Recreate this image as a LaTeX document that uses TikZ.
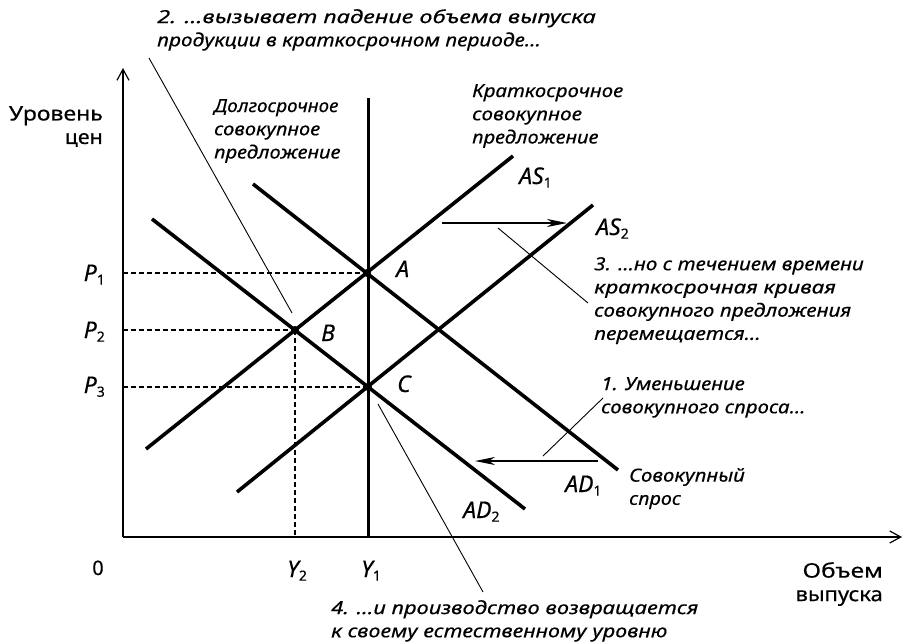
\documentclass[tikz,border=0pt]{standalone}
\usepackage{fontspec}
\usepackage{graphicx}
\setmainfont{Noto Sans}[FakeBold=0.4]
\usetikzlibrary{arrows.meta}
\newcommand\ssub[1]{\raisebox{-0.3ex}{\fontsize{14}{14}\selectfont\upshape #1}}
\newcommand\sx[2]{\scalebox{#1}[1]{#2}}
\begin{document}
\begin{tikzpicture}[x=1pt,y=-1pt,
  curve/.style={line width=3.6pt},
  lras/.style={line width=3pt},
  axis/.style={line width=1.4pt},
  guide/.style={dash pattern=on 5pt off 3pt, line width=1.1pt},
  note/.style={line width=0.9pt},
  shiftarrow/.style={line width=1.3pt, -{Stealth[length=20pt,width=8pt,inset=6pt]}},
  txt/.style={font=\fontsize{18}{23.2}\selectfont\itshape, inner sep=0pt, align=left, anchor=north west},
  upt/.style={font=\fontsize{20}{23.5}\selectfont, inner sep=0pt},
  lbl/.style={font=\fontsize{23}{23}\selectfont\itshape, inner sep=0pt, anchor=base west},
  dot/.style={circle, fill, inner sep=0pt, minimum size=8pt}]
\useasboundingbox (0,0) rectangle (905,643);
% axes
\coordinate (O) at (123,537);
\coordinate (ytop) at (123,68);
\coordinate (xend) at (902,537);
\draw[axis, -{Straight Barb[length=11pt,width=12pt,line width=1.2pt]}] (O) -- (ytop);
\draw[axis, -{Straight Barb[length=11pt,width=12pt,line width=1.2pt]}] (O) -- (xend);
% equilibrium points
\node[dot] (A) at (367,273) {};
\node[dot] (B) at (295,330) {};
\node[dot] (C) at (368,387) {};
% long-run AS
\coordinate (L1) at (368,98);
\coordinate (L2) at (368,537);
\draw[lras] (L1) -- (L2);
% guides
\coordinate (pA) at (123,273);
\coordinate (pB) at (123,330);
\coordinate (pC) at (123,387);
\coordinate (yB) at (295,537);
\draw[guide] (pA) -- (A.center);
\draw[guide] (pB) -- (B.center);
\draw[guide] (pC) -- (C.center);
\draw[guide] (B.center) -- (yB);
% curves
\coordinate (as1a) at (146,449); \coordinate (as1b) at (513,156);
\coordinate (as2a) at (237,492); \coordinate (as2b) at (593,205);
\coordinate (ad1a) at (253,184); \coordinate (ad1b) at (618,470);
\coordinate (ad2a) at (152,219); \coordinate (ad2b) at (525,509);
\draw[curve] (as1a) -- (as1b);
\draw[curve] (as2a) -- (as2b);
\draw[curve] (ad1a) -- (ad1b);
\draw[curve] (ad2a) -- (ad2b);
% shift arrows
\coordinate (s1a) at (442,223); \coordinate (s1b) at (567,223);
\coordinate (s2a) at (598,461); \coordinate (s2b) at (475,461);
\draw[shiftarrow] (s1a) -- (s1b);
\draw[shiftarrow] (s2a) -- (s2b);
% annotation leaders
\coordinate (n2a) at (149,58);  \coordinate (n2b) at (292,313);
\coordinate (n3a) at (498,228); \coordinate (n3b) at (588,303);
\coordinate (n1a) at (543,456); \coordinate (n1b) at (603,398);
\coordinate (n4a) at (378,404); \coordinate (n4b) at (483,592);
\draw[note] (n2a) -- (n2b);
\draw[note] (n3a) -- (n3b);
\draw[note] (n1a) -- (n1b);
\draw[note] (n4a) -- (n4b);
% point labels
\node[lbl] (lA) at (396,277) {A};
\node[lbl] (lB) at (321,341) {B};
\node[lbl] (lC) at (397,392) {C};
\node[lbl] (las1) at (519,184) {AS\ssub{1}};
\node[lbl] (las2) at (596,235) {AS\ssub{2}};
\node[lbl] (lad1) at (565,492) {AD\ssub{1}};
\node[lbl] (lad2) at (463,518) {AD\ssub{2}};
\node[lbl, anchor=base east] (lp1) at (105,281) {P\ssub{1}};
\node[lbl, anchor=base east] (lp2) at (105,338) {P\ssub{2}};
\node[lbl, anchor=base east] (lp3) at (105,393) {P\ssub{3}};
\node[lbl] (ly2) at (287,577) {Y\ssub{2}};
\node[lbl] (ly1) at (361,577) {Y\ssub{1}};
\node[upt, anchor=base] (l0) at (98,575) {0};
% axis titles
\node[upt, align=right, anchor=north east] (ytitle) at (103,106) {\sx{1.15}{Уровень}\\\sx{1.07}{цен}};
\node[upt, align=right, anchor=north east] (xtitle) at (883,562) {\sx{1.22}{Объем}\\\sx{1.1}{выпуска}};
% texts
\node[txt] (t2) at (157,9) {\sx{1.31}{2. ...вызывает падение объема выпуска}\\\sx{1.16}{продукции в краткосрочном периоде...}};
\node[txt] (tl) at (214,99) {\sx{1.05}{Долгосрочное}\\\sx{1.12}{совокупное}\\\sx{1.12}{предложение}};
\node[txt] (tk) at (472,84) {\sx{1.14}{Краткосрочное}\\\sx{1.16}{совокупное}\\\sx{1.12}{предложение}};
\node[txt] (t3) at (594,257) {\sx{1.15}{3. ...но с течением времени}\\\sx{1.24}{краткосрочная кривая}\\\sx{1.16}{совокупного предложения}\\\sx{1.17}{перемещается...}};
\node[txt] (t1) at (601,377) {\sx{1.14}{1. Уменьшение}\\\sx{1.14}{совокупного спроса...}};
\node[txt] (ts) at (629,468) {\sx{1.14}{Совокупный}\\\sx{1.1}{спрос}};
\node[txt] (t4) at (331,600) {\sx{1.22}{4. ...и производство возвращается}\\\sx{1.2}{к своему естественному уровню}};
\end{tikzpicture}
\end{document}
